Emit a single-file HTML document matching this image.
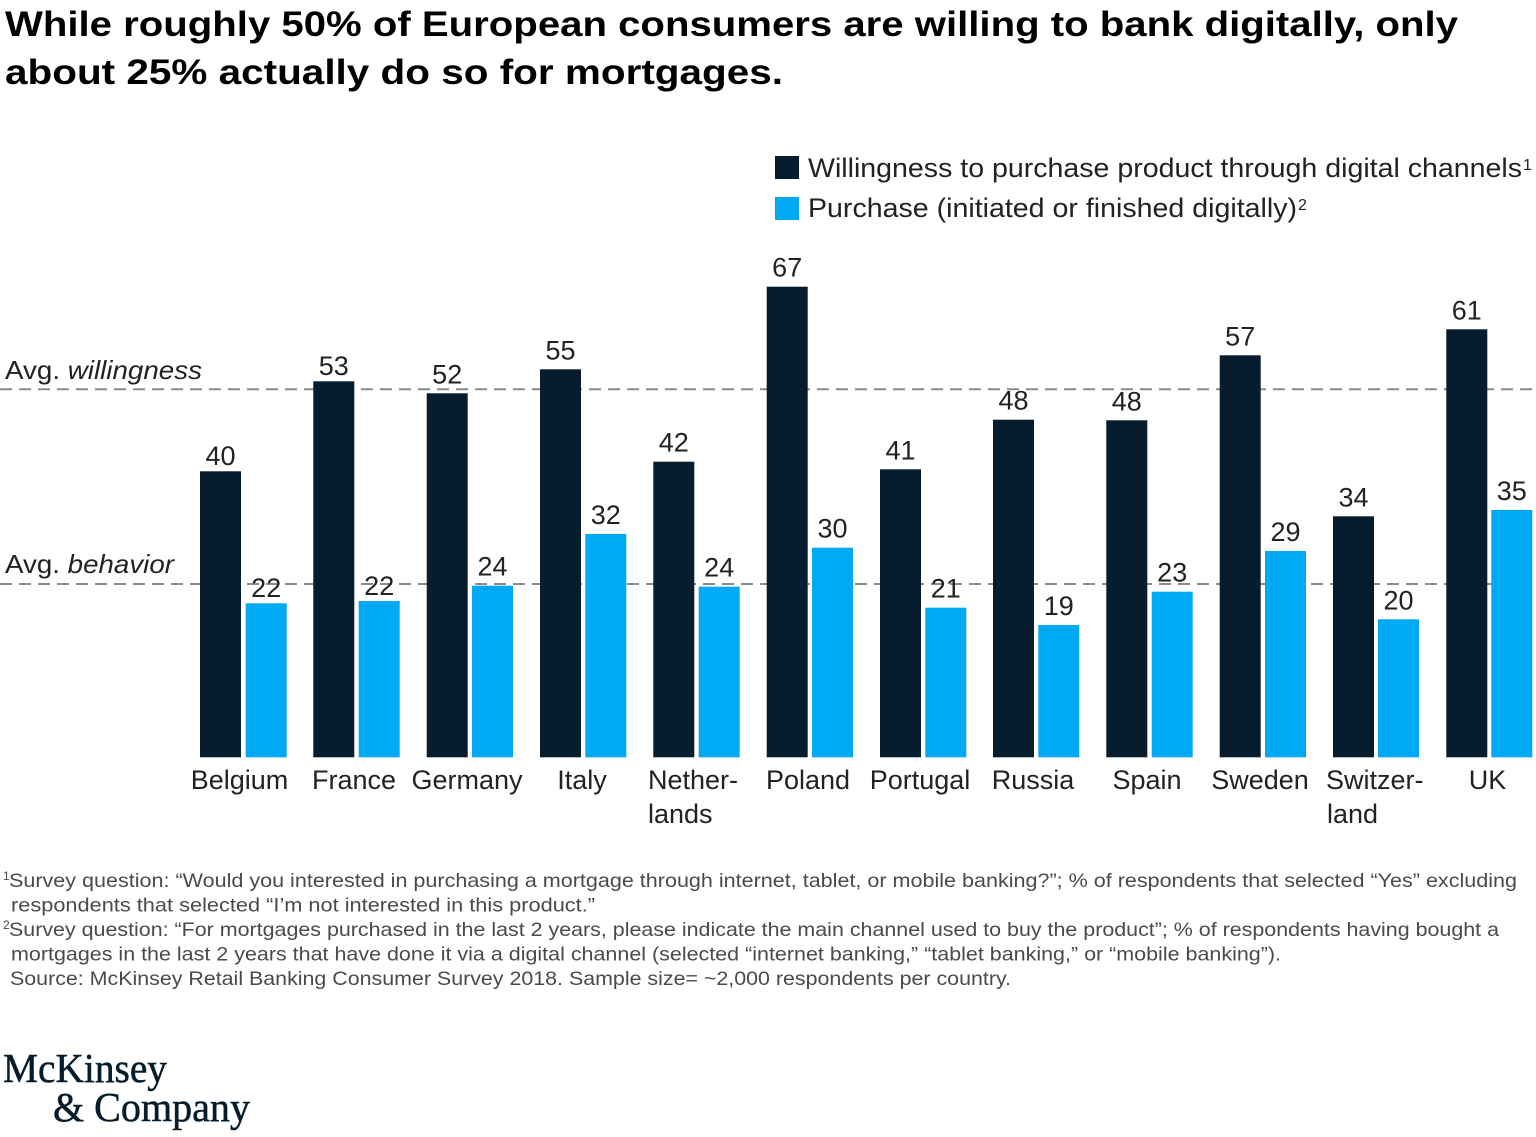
<!DOCTYPE html>
<html><head><meta charset="utf-8"><style>
html,body{margin:0;padding:0;background:#fff;}
svg{display:block;}
text{font-family:"Liberation Sans",Arial,sans-serif;}
</style></head><body>
<svg width="1536" height="1137" viewBox="0 0 1536 1137" xmlns="http://www.w3.org/2000/svg">
<rect width="1536" height="1137" fill="#fff"/>
<!-- Title -->
<text x="5" y="36" font-size="35" font-weight="bold" fill="#000" textLength="1453" lengthAdjust="spacingAndGlyphs">While roughly 50% of European consumers are willing to bank digitally, only</text>
<text x="5" y="84" font-size="35" font-weight="bold" fill="#000" textLength="778" lengthAdjust="spacingAndGlyphs">about 25% actually do so for mortgages.</text>

<!-- Legend -->
<rect x="775" y="156" width="24" height="23" fill="#071d2d"/>
<rect x="775" y="197" width="24" height="23" fill="#00a9f4"/>
<text x="808" y="177" font-size="27" fill="#222" textLength="714" lengthAdjust="spacingAndGlyphs">Willingness to purchase product through digital channels</text>
<text x="1523" y="170" font-size="16" fill="#222">1</text>
<text x="808" y="217" font-size="27" fill="#222" textLength="489" lengthAdjust="spacingAndGlyphs">Purchase (initiated or finished digitally)</text>
<text x="1298" y="210" font-size="16" fill="#222">2</text>

<!-- Avg lines -->
<line x1="0" y1="389.3" x2="1536" y2="389.3" stroke="#8a8a8a" stroke-width="2" stroke-dasharray="12 7"/>
<line x1="0" y1="584" x2="1536" y2="584" stroke="#8a8a8a" stroke-width="2" stroke-dasharray="12 7"/>
<text x="5" y="379" font-size="26" fill="#222" textLength="197" lengthAdjust="spacingAndGlyphs">Avg. <tspan font-style="italic">willingness</tspan></text>
<text x="5" y="573" font-size="26" fill="#222" textLength="169" lengthAdjust="spacingAndGlyphs">Avg. <tspan font-style="italic">behavior</tspan></text>

<!-- Bars -->
<g fill="#071d2d">
<rect x="200" y="471.3" width="41" height="286"/>
<rect x="313.3" y="381.3" width="41" height="376"/>
<rect x="426.7" y="393.3" width="41" height="364"/>
<rect x="540" y="369.3" width="41" height="388"/>
<rect x="653.3" y="461.7" width="41" height="295.6"/>
<rect x="766.7" y="286.7" width="41" height="470.6"/>
<rect x="880" y="469.3" width="41" height="288"/>
<rect x="993" y="419.7" width="41" height="337.6"/>
<rect x="1106.3" y="420.3" width="41" height="337"/>
<rect x="1219.7" y="355.3" width="41" height="402"/>
<rect x="1333" y="516.3" width="41" height="241"/>
<rect x="1446.3" y="329.3" width="41" height="428"/>
</g>
<g fill="#00a9f4">
<rect x="245.7" y="603.3" width="41" height="154"/>
<rect x="358.7" y="601" width="41" height="156.3"/>
<rect x="472" y="585.7" width="41" height="171.6"/>
<rect x="585.3" y="534" width="41" height="223.3"/>
<rect x="698.7" y="586.7" width="41" height="170.6"/>
<rect x="812" y="547.7" width="41" height="209.6"/>
<rect x="925.3" y="607.7" width="41" height="149.6"/>
<rect x="1038.3" y="625" width="41" height="132.3"/>
<rect x="1151.7" y="591.7" width="41" height="165.6"/>
<rect x="1265" y="551" width="41" height="206.3"/>
<rect x="1378" y="619.3" width="41" height="138"/>
<rect x="1491.3" y="510" width="41" height="247.3"/>
</g>

<!-- Value labels -->
<g font-size="27" fill="#222" text-anchor="middle">
<text x="220.5" y="465">40</text>
<text x="266.2" y="597">22</text>
<text x="333.8" y="375">53</text>
<text x="379.2" y="595">22</text>
<text x="447.2" y="383.3">52</text>
<text x="492.5" y="575.7">24</text>
<text x="560.5" y="359.3">55</text>
<text x="605.8" y="524">32</text>
<text x="673.8" y="451.7">42</text>
<text x="719.2" y="576.7">24</text>
<text x="787.2" y="276.7">67</text>
<text x="832.5" y="537.7">30</text>
<text x="900.5" y="459.3">41</text>
<text x="945.8" y="597.7">21</text>
<text x="1013.5" y="409.7">48</text>
<text x="1058.8" y="615">19</text>
<text x="1126.8" y="410.3">48</text>
<text x="1172.2" y="581.7">23</text>
<text x="1240.2" y="345.3">57</text>
<text x="1285.5" y="541">29</text>
<text x="1353.5" y="506.3">34</text>
<text x="1398.5" y="609.3">20</text>
<text x="1466.8" y="319.3">61</text>
<text x="1511.8" y="500">35</text>
</g>

<!-- Category labels -->
<g font-size="27" fill="#222" text-anchor="middle">
<text x="239.5" y="789">Belgium</text>
<text x="354" y="789">France</text>
<text x="467" y="789">Germany</text>
<text x="582" y="789">Italy</text>
<text x="808" y="789">Poland</text>
<text x="920" y="789">Portugal</text>
<text x="1033" y="789">Russia</text>
<text x="1147" y="789">Spain</text>
<text x="1260" y="789">Sweden</text>
<text x="1487.5" y="789">UK</text>
</g>
<g font-size="27" fill="#222">
<text x="648" y="789">Nether-</text>
<text x="648" y="823">lands</text>
<text x="1326" y="789">Switzer-</text>
<text x="1327" y="823">land</text>
</g>

<!-- Footnotes -->
<g font-size="19.5" fill="#4a4a4a">
<text x="3" y="880" font-size="12">1</text>
<text x="9" y="887" textLength="1508" lengthAdjust="spacingAndGlyphs">Survey question: “Would you interested in purchasing a mortgage through internet, tablet, or mobile banking?”; % of respondents that selected “Yes” excluding</text>
<text x="11" y="911.5" textLength="584" lengthAdjust="spacingAndGlyphs">respondents that selected “I’m not interested in this product.”</text>
<text x="3" y="929" font-size="12">2</text>
<text x="9" y="936" textLength="1490" lengthAdjust="spacingAndGlyphs">Survey question: “For mortgages purchased in the last 2 years, please indicate the main channel used to buy the product”; % of respondents having bought a</text>
<text x="11" y="960.5" textLength="1270" lengthAdjust="spacingAndGlyphs">mortgages in the last 2 years that have done it via a digital channel (selected “internet banking,” “tablet banking,” or “mobile banking”).</text>
<text x="10" y="985" textLength="1001" lengthAdjust="spacingAndGlyphs">Source: McKinsey Retail Banking Consumer Survey 2018. Sample size= ~2,000 respondents per country.</text>
</g>

<!-- Logo -->
<text x="3" y="1082" font-size="41" fill="#051c2c" stroke="#051c2c" stroke-width="0.5" textLength="164" lengthAdjust="spacingAndGlyphs" style="font-family:'Liberation Serif',serif">McKinsey</text>
<text x="53" y="1121" font-size="41" fill="#051c2c" stroke="#051c2c" stroke-width="0.5" textLength="197" lengthAdjust="spacingAndGlyphs" style="font-family:'Liberation Serif',serif">&amp; Company</text>
</svg>
</body></html>
